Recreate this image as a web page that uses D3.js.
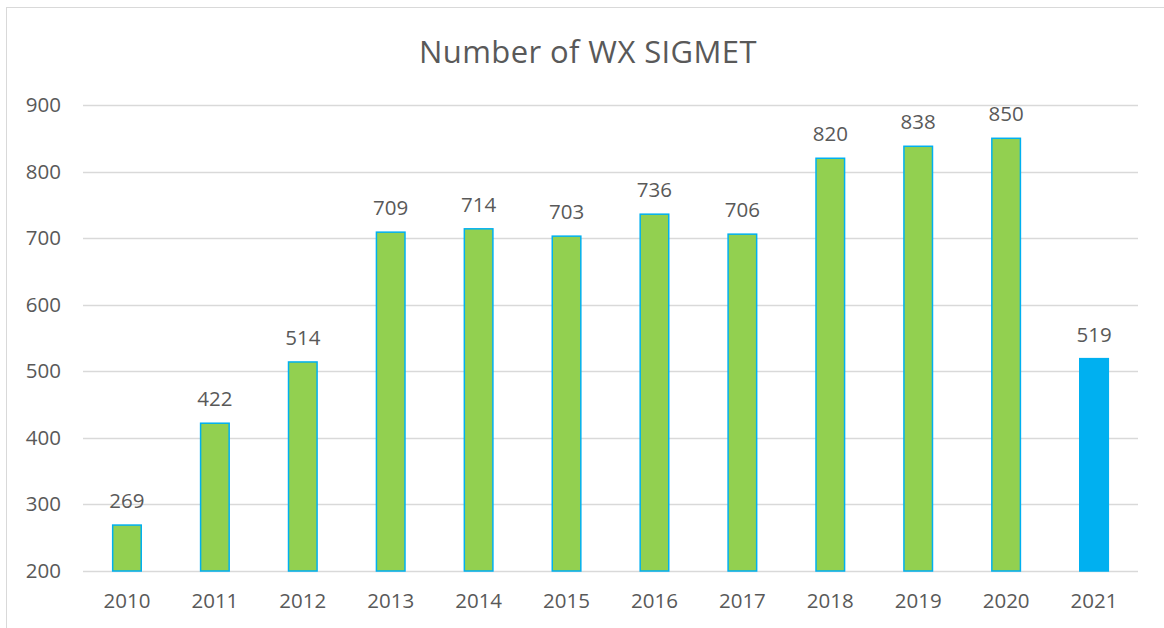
<!DOCTYPE html>
<meta charset="utf-8">
<script src="https://d3js.org/d3.v7.min.js"></script>
<style>
  body { margin: 0; background: #fff; }
  text { font-family: "Open Sans", sans-serif; fill: #595959; }
</style>
<div id="chart"></div>
<script>

// data
var years = ["2010","2011","2012","2013","2014","2015","2016","2017","2018","2019","2020","2021"];
var counts = [269, 422, 514, 709, 714, 703, 736, 706, 820, 838, 850, 519];
var yTicks = [200, 300, 400, 500, 600, 700, 800, 900];

var W = 1164, H = 628;
var margin = {top: 105, right: 26, bottom: 57, left: 83},
    width = W - margin.left - margin.right,
    height = H - margin.top - margin.bottom;

var svg = d3.select("#chart")
  .append("svg")
    .attr("width", W)
    .attr("height", H);

// chart frame
svg.append("rect")
  .attr("x", 6.5).attr("y", 7.5)
  .attr("width", 1170).attr("height", 640)
  .attr("fill", "none")
  .attr("stroke", "#d9d9d9");

svg.append("text")
  .attr("x", 588).attr("y", 63)
  .attr("text-anchor", "middle")
  .style("font-size", "31px")
  .style("letter-spacing", "0.4px")
  .text("Number of WX SIGMET");

var g = svg.append("g")
  .attr("transform", "translate(" + margin.left + "," + margin.top + ")");

var x = d3.scaleBand()
  .domain(years)
  .range([0, width])
  .paddingInner(0.675)
  .paddingOuter(0.3375);

var y = d3.scaleLinear()
  .domain([200, 900])
  .range([height, 0]);

// gridlines
g.append("g")
  .selectAll("line")
  .data(yTicks)
  .enter().append("line")
    .attr("x1", 0).attr("x2", width)
    .attr("y1", function(d) { return Math.round(y(d)) + 0.5; })
    .attr("y2", function(d) { return Math.round(y(d)) + 0.5; })
    .attr("stroke", "#d9d9d9")
    .attr("stroke-width", 1.3);

// y axis labels
var yAxis = g.append("g")
  .call(d3.axisLeft(y).tickValues(yTicks).tickSize(0).tickPadding(22));
yAxis.select(".domain").remove();
yAxis.selectAll("text").style("font-size", "20.5px").attr("fill", "#595959");

// x axis labels
var xAxis = g.append("g")
  .attr("transform", "translate(0," + height + ")")
  .call(d3.axisBottom(x).tickSize(0).tickPadding(22));
xAxis.select(".domain").remove();
xAxis.selectAll("text").style("font-size", "20.5px").attr("fill", "#595959");

// bars
g.append("g")
  .selectAll("rect")
  .data(counts)
  .enter().append("rect")
    .attr("x", function(d, i) { return x(years[i]); })
    .attr("y", function(d) { return y(d); })
    .attr("width", x.bandwidth())
    .attr("height", function(d) { return height - y(d); })
    .attr("fill", function(d, i) { return years[i] == "2021" ? "#00b0f0" : "#92d050"; })
    .attr("stroke", "#00b0f0")
    .attr("stroke-width", 1.5);

// value labels
g.append("g")
  .selectAll("text")
  .data(counts)
  .enter().append("text")
    .attr("x", function(d, i) { return x(years[i]) + x.bandwidth() / 2; })
    .attr("y", function(d) { return y(d) - 17; })
    .attr("text-anchor", "middle")
    .style("font-size", "20.5px")
    .text(function(d) { return d; });

</script>
